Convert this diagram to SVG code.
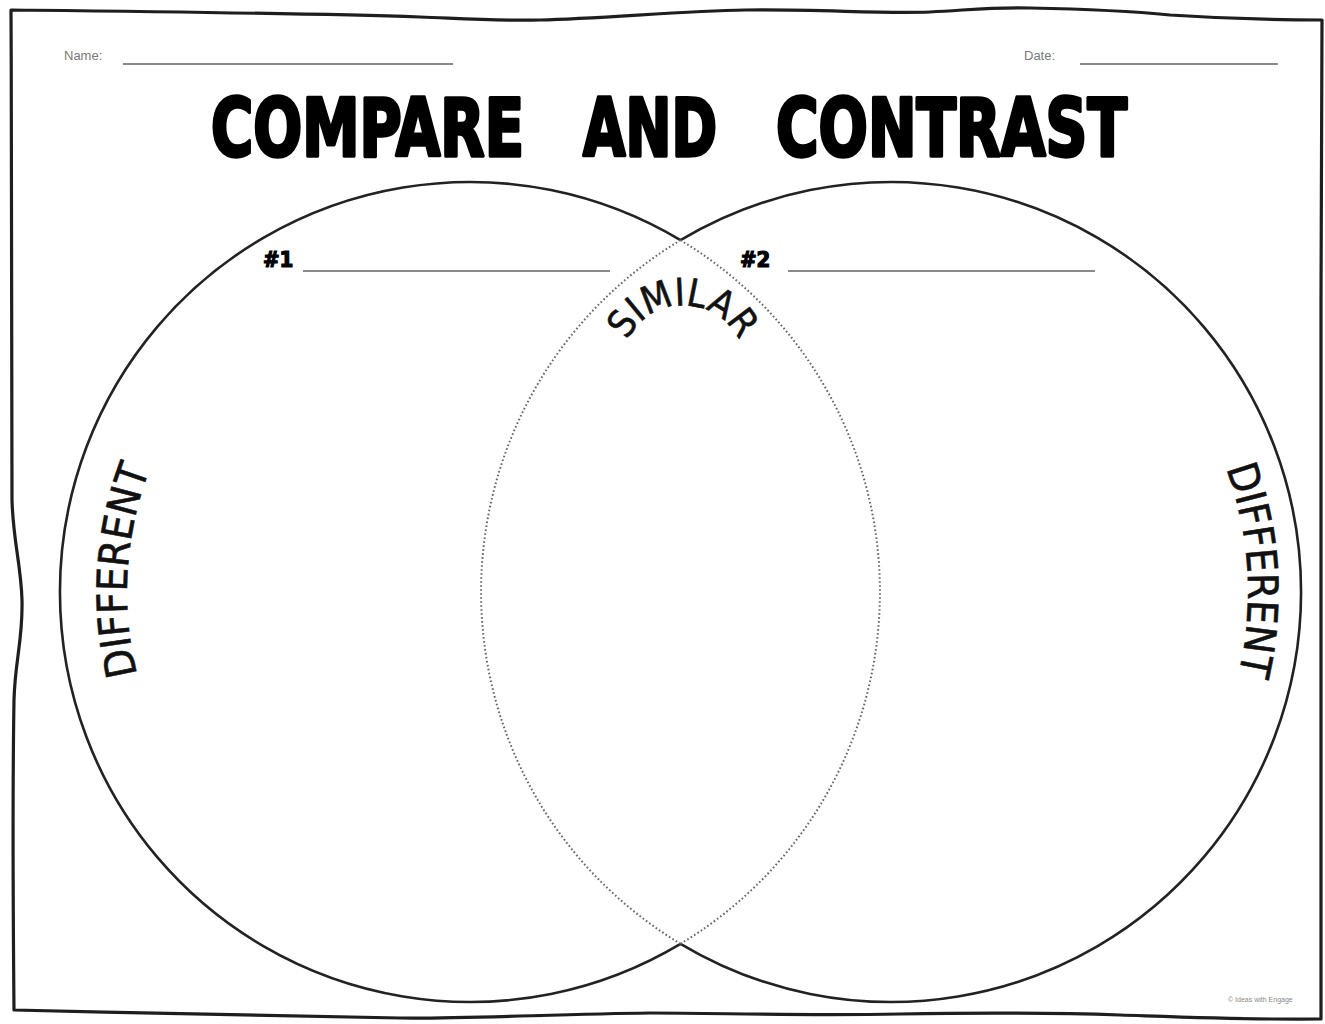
<svg xmlns="http://www.w3.org/2000/svg" width="1325" height="1024" viewBox="0 0 1325 1024">
  <style>
    .border { fill: none; stroke: #1e1e1e; stroke-width: 3.2; stroke-linejoin: round; stroke-linecap: round; }
    .solid { fill: none; stroke: #222; stroke-width: 2.6; }
    .dotted { fill: none; stroke: #666; stroke-width: 2; stroke-dasharray: 1.6 2.4; }
    .small { font-family: "Liberation Sans", Arial, sans-serif; font-size: 13px; fill: #7a7a7a; }
    .rule { stroke: #8a8a8a; stroke-width: 2; }
    .title { font-family: "DejaVu Sans Condensed", "DejaVu Sans", sans-serif; font-stretch: condensed; font-weight: bold; font-size: 70px; fill: #000; stroke: #000; stroke-width: 3; stroke-linejoin: round; }
    .num { font-family: "DejaVu Sans Condensed", "DejaVu Sans", sans-serif; font-stretch: condensed; font-weight: bold; font-size: 22px; fill: #000; stroke: #000; stroke-width: 1.2; }
    .arc { font-family: "DejaVu Sans Condensed", "DejaVu Sans", sans-serif; font-stretch: condensed; fill: #111; stroke: #111; stroke-width: 0.6; }
  </style>
  <defs>
    <path id="simPath" d="M 621.2 362.6 A 62 62 0 0 1 744.8 362.6"/>
    <path id="difLeft" d="M 163.1 745 A 343 343 0 0 1 184 402.7"/>
    <path id="difRight" d="M 1188.7 395 A 357 357 0 0 1 1210.5 751.3"/>
  </defs>
  <rect width="1325" height="1024" fill="#fff"/>

  <g id="page-border">
    <path class="border" d="M 11 10 C 100 11, 300 13, 420 17 C 470 19, 500 21, 540 20 C 600 19, 680 11, 745 10 C 820 9, 880 14, 930 12 C 970 10, 990 7, 1030 8 C 1080 9, 1120 10, 1170 15 C 1230 19, 1280 20, 1322 20 L 1321 300 C 1320 500, 1322 700, 1321 1019 C 1250 1020, 1180 1017, 1120 1015 C 1060 1013, 960 1013, 900 1014 C 800 1016, 720 1013, 650 1013 C 560 1014, 460 1019, 400 1018 C 300 1017, 150 1013, 14 1010 C 13 900, 13 760, 14 700 C 15 660, 23 640, 22 600 C 21 565, 13 540, 12 500 C 11 400, 12 200, 11 10 Z"/>
  </g>

  <g id="header">
    <text class="small" x="64" y="60">Name:</text>
    <line class="rule" x1="123" y1="64" x2="453" y2="64"/>
    <text class="small" x="1024" y="60">Date:</text>
    <line class="rule" x1="1080" y1="64" x2="1278" y2="64"/>
  </g>

  <g id="title" transform="scale(1,1.14)">
    <text class="title" x="211" y="136.5" textLength="313" lengthAdjust="spacingAndGlyphs">COMPARE</text>
    <text class="title" x="583" y="136.5" textLength="134" lengthAdjust="spacingAndGlyphs">AND</text>
    <text class="title" x="776" y="136.5" textLength="351" lengthAdjust="spacingAndGlyphs">CONTRAST</text>
  </g>

  <g id="connectors">
    <path class="solid" d="M 680.5 240.2 A 410 410 0 1 0 680.5 943.8"/>
    <path class="solid" d="M 680.5 240.2 A 410 410 0 1 1 680.5 943.8"/>
    <path class="dotted" d="M 680.5 240.2 A 410 410 0 0 1 680.5 943.8"/>
    <path class="dotted" d="M 680.5 240.2 A 410 410 0 0 0 680.5 943.8"/>
  </g>

  <g id="circle-1">
    <text class="num" x="263" y="267">#1</text>
    <line class="rule" x1="303" y1="271" x2="610" y2="271" stroke="#555"/>
    <text class="arc" font-size="42"><textPath href="#difLeft" startOffset="50%" text-anchor="middle">DIFFERENT</textPath></text>
  </g>

  <g id="circle-2">
    <text class="num" x="740" y="267">#2</text>
    <line class="rule" x1="788" y1="271" x2="1095" y2="271" stroke="#555"/>
    <text class="arc" font-size="42"><textPath href="#difRight" startOffset="50%" text-anchor="middle">DIFFERENT</textPath></text>
  </g>

  <g id="overlap">
    <text class="arc" font-size="38"><textPath href="#simPath" startOffset="50%" text-anchor="middle">SIMILAR</textPath></text>
  </g>

  <g id="footer">
    <text x="1228" y="1002" font-family="Liberation Sans, Arial, sans-serif" font-size="7" fill="#888">© Ideas with Engage</text>
  </g>
</svg>
